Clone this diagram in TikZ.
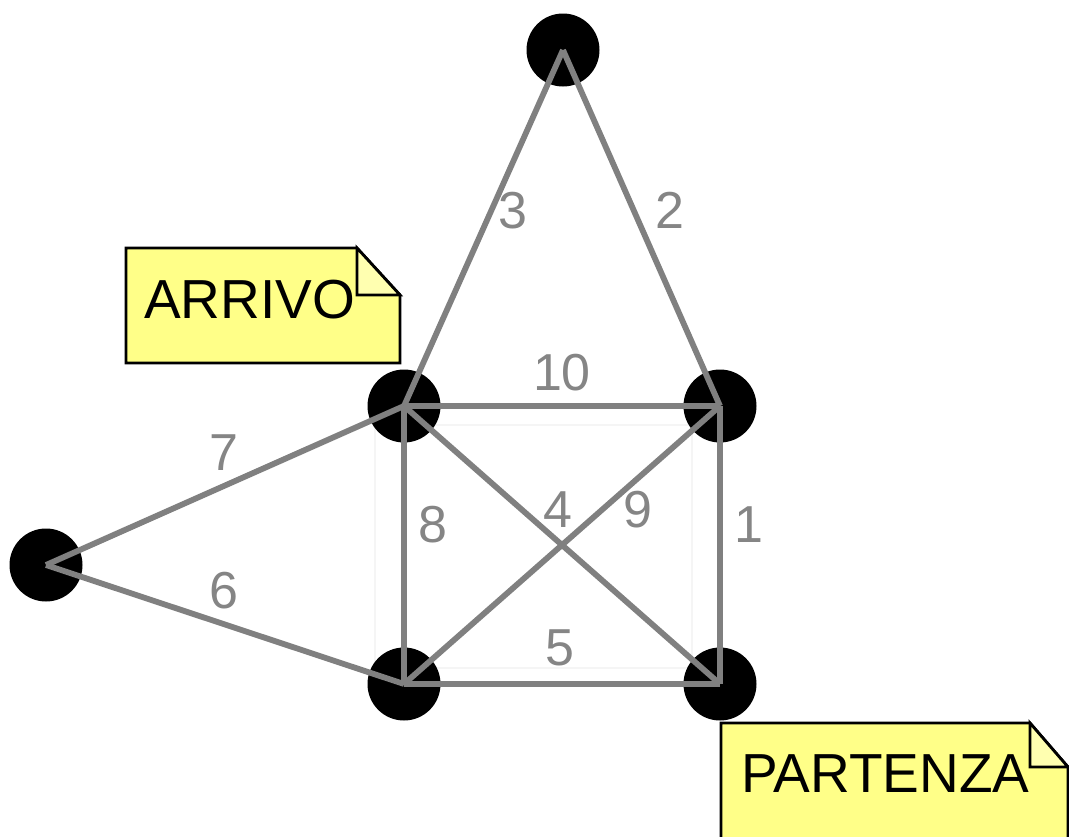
\documentclass[tikz,border=0pt]{standalone}
\usepackage{fontspec}
\setmainfont{Liberation Sans}
\definecolor{edgegray}{HTML}{808080}
\definecolor{labgray}{HTML}{858585}
\definecolor{noteyellow}{HTML}{FFFF88}
\definecolor{foldyellow}{HTML}{FFFFB0}
\definecolor{faint}{HTML}{F5F5F5}
\begin{document}
\begin{tikzpicture}[x=1pt,y=-1pt,
  vertex/.style={circle,fill=black,minimum size=73pt,inner sep=0pt},
  edge/.style={draw=edgegray,line width=5.8pt},
  elabel/.style={text=labgray,anchor=base,inner sep=0pt,font=\fontsize{52}{60}\selectfont},
  notebox/.style={fill=noteyellow,draw=black,line width=2.8pt,line join=miter},
  notefold/.style={fill=foldyellow,draw=black,line width=2.8pt},
  notetext/.style={anchor=base west,inner sep=0pt,font=\fontsize{55}{64}\selectfont}]
\useasboundingbox (0,0) rectangle (1069,836);
\fill[white] (0,0) rectangle (1069,836);
% faint rectangle
\draw[faint,line width=1.5pt] (375,425) rectangle (692,668);
% vertices
\node[vertex] (T) at (563,50) {};
\node[vertex] (A) at (404,406) {};
\node[vertex] (R) at (720,406) {};
\node[vertex] (L) at (46,565) {};
\node[vertex] (B) at (404,684) {};
\node[vertex] (P) at (720,684) {};
% edges
\draw[edge] (R.center) -- (P.center);
\draw[edge] (T.center) -- (R.center);
\draw[edge] (T.center) -- (A.center);
\draw[edge] (A.center) -- (P.center);
\draw[edge] (B.center) -- (P.center);
\draw[edge] (L.center) -- (B.center);
\draw[edge] (L.center) -- (A.center);
\draw[edge] (A.center) -- (B.center);
\draw[edge] (B.center) -- (R.center);
\draw[edge] (A.center) -- (R.center);
% edge labels
\node[elabel] (l1) at (749,542) {1};
\node[elabel] (l2) at (670,228) {2};
\node[elabel] (l3) at (513,228) {3};
\node[elabel] (l4) at (558,527) {4};
\node[elabel] (l5) at (560,665) {5};
\node[elabel] (l6) at (224,608) {6};
\node[elabel] (l7) at (224,470) {7};
\node[elabel] (l8) at (433,542) {8};
\node[elabel] (l9) at (638,527) {9};
\node[elabel] (l10) at (562,390) {10};
% ARRIVO note
\path[notebox] (126,248) -- (357,248) -- (400,295) -- (400,363) -- (126,363) -- cycle;
\path[notefold] (357,248) -- (357,295) -- (400,295) -- cycle;
\node[notetext] (arrivo) at (144,318) {ARRIVO};
% PARTENZA note
\path[notebox] (721,723) -- (1030,723) -- (1068,767) -- (1068,850) -- (721,850) -- cycle;
\path[notefold] (1030,723) -- (1030,767) -- (1068,767) -- cycle;
\node[notetext] (partenza) at (741,792) {PARTENZA};
\end{tikzpicture}
\end{document}
